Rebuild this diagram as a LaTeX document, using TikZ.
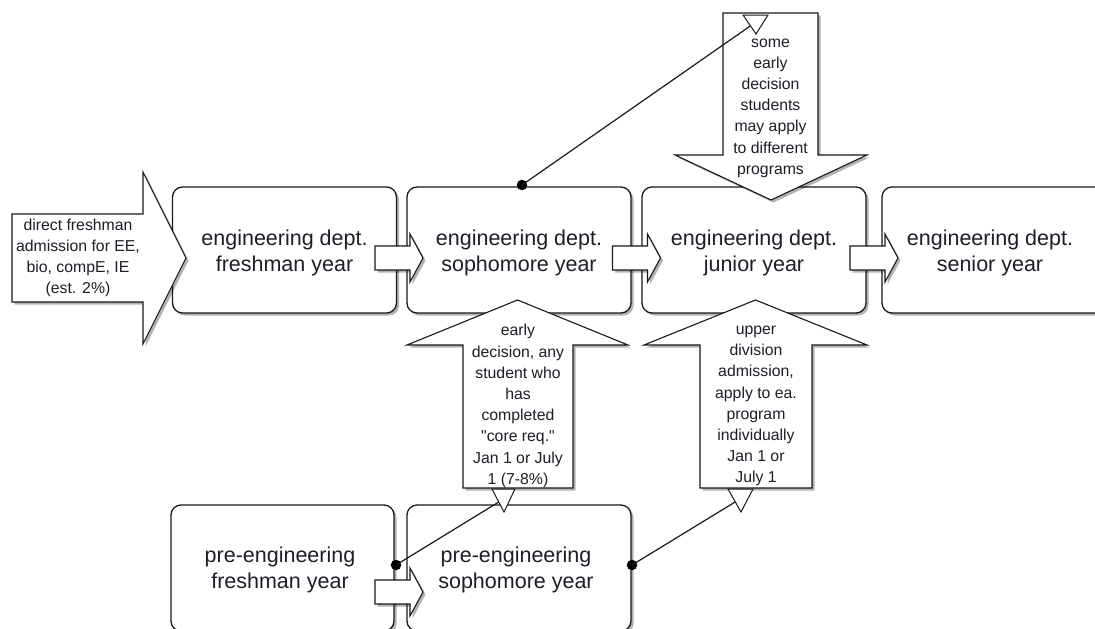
\documentclass[tikz,border=0pt]{standalone}
\usepackage{fontspec}
\setmainfont[Ligatures=TeXOff]{Liberation Sans}
\usetikzlibrary{shadows}
\definecolor{txt}{RGB}{30,30,40}
\definecolor{edge}{RGB}{25,25,25}
\begin{document}
\begin{tikzpicture}[x=1pt,y=-1pt,
  shad/.style={drop shadow={shadow xshift=2.5pt,shadow yshift=-2.5pt,opacity=0.3,fill=black}},
  box/.style={draw=edge,line width=1.3pt,rounded corners=10pt,fill=white,shad,
    minimum width=224pt,minimum height=126pt,inner sep=0pt},
  boxtext/.style={align=center,text=txt,inner sep=0pt,font=\fontsize{21.5}{26}\selectfont},
  blockarrow/.style={draw=edge,line width=1.1pt,fill=white,line join=miter,shad},
  smalltext/.style={align=center,text=txt,inner sep=0pt,font=\fontsize{15.8}{21.2}\selectfont},
  dot/.style={circle,fill=black,inner sep=0pt,minimum size=10.5pt},
  conn/.style={draw=edge,line width=1.2pt},
  tri/.style={draw=edge,line width=1pt,fill=white,line join=miter},
  smallarr/.pic={\path[blockarrow] (-24,-12) -- (11,-12) -- (11,-24) -- (24,0) -- (11,24) -- (11,12) -- (-24,12) -- cycle;}
]
\useasboundingbox (0,0) rectangle (1095,629);
\clip (0,0) rectangle (1095,629);

% boxes
\node[box] (b1) at (284.5,250) {};
\node[box] (b2) at (519,250) {};
\node[box] (b3) at (754,250) {};
\node[box] (b4) at (994,250) {};
\node[box,minimum width=223pt] (b5) at (282.5,568) {};
\node[box] (b6) at (519,568) {};
\node[boxtext] (l1) at (284.5,253) {engineering dept.\\freshman year};
\node[boxtext] (l2) at (519,253) {engineering dept.\\sophomore year};
\node[boxtext] (l3) at (754,253) {engineering dept.\\junior year};
\node[boxtext] (l4) at (990,253) {engineering dept.\\senior year};
\node[boxtext] (l5) at (280,570) {pre-engineering\\freshman year};
\node[boxtext] (l6) at (516,570) {pre-engineering\\sophomore year};

% small block arrows between boxes
\pic at (399,258) {smallarr};
\pic at (636.5,258) {smallarr};
\pic at (874,258) {smallarr};
\pic at (399,592) {smallarr};

% big block arrows
\path[blockarrow] (12,214) -- (143,214) -- (143,172) -- (186,258) -- (143,344) -- (143,302) -- (12,302) -- cycle;
\node[smalltext] (ta) at (78,258) {direct freshman\\admission for EE,\\bio, compE, IE\\(est. 2\%)};

\path[blockarrow] (463,488) -- (463,345) -- (407,345) -- (517.5,300) -- (628,345) -- (573,345) -- (573,488) -- cycle;
\node[smalltext] (tb) at (518,406) {early\\decision, any\\student who\\has\\completed\\"core req."\\Jan 1 or July\\1 (7-8\%)};

\path[blockarrow] (700,488) -- (700,345) -- (644,345) -- (755.5,300) -- (867,345) -- (812,345) -- (812,488) -- cycle;
\node[smalltext] (tc) at (756,406) {upper\\division\\admission,\\apply to ea.\\program\\individually\\Jan 1 or\\July 1};

\path[blockarrow] (723,13) -- (818,13) -- (818,155) -- (867,155) -- (771,200) -- (675,155) -- (723,155) -- cycle;
\node[smalltext] (td) at (770.5,108) {some\\early\\decision\\students\\may apply\\to different\\programs};

% connectors
\node[dot] (d1) at (522,185) {};
\node[dot] (d2) at (396,565) {};
\node[dot] (d3) at (632,565) {};
\coordinate (e1) at (756,22);
\coordinate (e2) at (502,500);
\coordinate (e3) at (740,499);
\draw[conn] (d1.center) -- (e1);
\draw[conn] (d2.center) -- (e2);
\draw[conn] (d3.center) -- (e3);
\path[tri] (743,15) -- (768,15) -- (756,34) -- cycle;
\path[tri] (492,489) -- (515,489) -- (504,512) -- cycle;
\path[tri] (728,489) -- (753,489) -- (741,512) -- cycle;
\end{tikzpicture}
\end{document}
